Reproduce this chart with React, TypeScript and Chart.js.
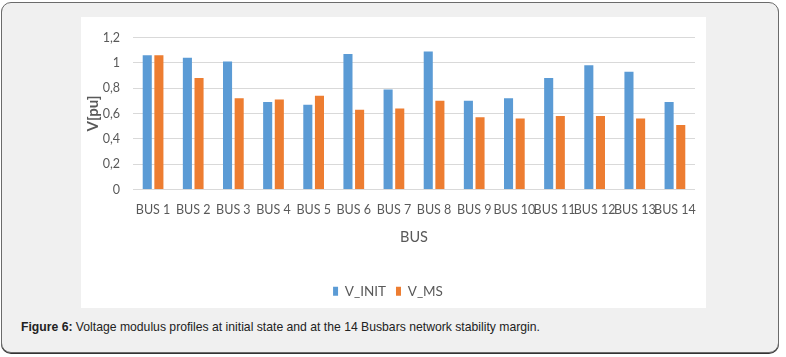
import React, { useEffect, useRef } from "react";
import { Chart, registerables } from "chart.js";

Chart.register(...registerables);

const categories = ["BUS 1", "BUS 2", "BUS 3", "BUS 4", "BUS 5", "BUS 6", "BUS 7", "BUS 8", "BUS 9", "BUS 10", "BUS 11", "BUS 12", "BUS 13", "BUS 14"];
const vInit = [1.06, 1.04, 1.01, 0.69, 0.67, 1.07, 0.79, 1.09, 0.70, 0.72, 0.88, 0.98, 0.93, 0.69];
const vMs = [1.06, 0.88, 0.72, 0.71, 0.74, 0.63, 0.64, 0.70, 0.57, 0.56, 0.58, 0.58, 0.56, 0.51];
const seriesNames = ["V_INIT", "V_MS"];
const yTicksMax = 1.2;
const yStep = 0.2;

const FONT = 'Lato, "Liberation Sans", Arial, sans-serif';
const GRAY = "#595959";

export default function App() {
  const ref = useRef<HTMLCanvasElement | null>(null);

  useEffect(() => {
    if (!ref.current) return;
    const chart = new Chart(ref.current, {
      type: "bar",
      data: {
        labels: categories,
        datasets: [
          { label: seriesNames[0], data: vInit, backgroundColor: "#5B9BD5", categoryPercentage: 0.58, barPercentage: 0.78 },
          { label: seriesNames[1], data: vMs, backgroundColor: "#ED7D31", categoryPercentage: 0.58, barPercentage: 0.78 },
        ],
      },
      options: {
        animation: false,
        responsive: false,
        maintainAspectRatio: false,
        layout: { padding: { top: 20, left: 0, right: 11, bottom: 0 } },
        plugins: {
          tooltip: { enabled: false },
          legend: {
            position: "bottom",
            labels: {
              boxWidth: 5,
              boxHeight: 9,
              color: GRAY,
              font: { family: FONT, size: 13.5 },
              padding: 10,
            },
          },
        },
        scales: {
          x: {
            grid: { display: false },
            border: { display: false },
            ticks: { color: GRAY, font: { family: FONT, size: 12.5 }, padding: 5, maxRotation: 0, autoSkip: false },
            title: { display: true, text: "BUS", color: GRAY, font: { family: FONT, size: 14.5 }, padding: { top: 0, bottom: 28 } },
            afterFit: (s: any) => { s.height = 85; },
          },
          y: {
            min: 0,
            max: yTicksMax,
            grid: { color: "#d9d9d9", drawTicks: false, lineWidth: 1 },
            border: { display: false },
            ticks: {
              stepSize: yStep,
              color: GRAY,
              padding: 13,
              font: { family: FONT, size: 12.5 },
              callback: (v: any) => Number(Number(v).toFixed(1)).toString().replace(".", ","),
            },
            title: { display: true, text: "V[pu]", color: GRAY, font: { family: FONT, size: 15, weight: "bold" }, padding: { top: 3, bottom: 0 } },
            afterFit: (s: any) => { s.width = 52; },
          },
        },
      },
    });
    return () => chart.destroy();
  }, []);

  return (
    <div style={{ position: "fixed", left: 0, top: 0, width: 786, height: 357, background: "#fff" }}>
      <div
        style={{
          position: "absolute",
          left: 1,
          top: 2,
          width: 776,
          height: 349,
          border: "1px solid #6b6b6b",
          borderRadius: 10,
          background: "#f0f0f0",
          boxShadow: "0 1px 0 #333",
        }}
      />
      <div style={{ position: "absolute", left: 81, top: 17, width: 625, height: 291, background: "#fff" }}>
        <canvas ref={ref} width={625} height={291} style={{ display: "block" }} />
      </div>
      <div
        style={{
          position: "absolute",
          left: 21,
          top: 320,
          fontFamily: '"Liberation Sans", Arial, sans-serif',
          fontSize: 12.2,
          lineHeight: "14px",
          color: "#222",
          whiteSpace: "nowrap",
        }}
      >
        <b>Figure 6:</b> Voltage modulus profiles at initial state and at the 14 Busbars network stability margin.
      </div>
    </div>
  );
}
